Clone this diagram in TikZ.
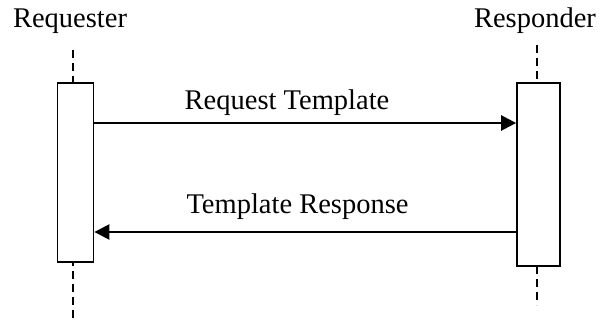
\documentclass[tikz,border=0pt]{standalone}
\usepackage{fontspec}
\setmainfont{Liberation Serif}
\usetikzlibrary{arrows.meta}
\begin{document}
\begin{tikzpicture}[x=1pt,y=-1pt,
  lbl/.style={anchor=base,inner sep=0pt,font=\fontsize{28.5}{30}\selectfont},
  actbox/.style={draw,line width=1.8pt,fill=white,inner sep=0pt},
  life/.style={line width=1.8pt,dash pattern=on 8pt off 5pt},
  msg/.style={line width=2.5pt,-{Triangle[length=15pt,width=15pt]}}]
\useasboundingbox (0,0) rectangle (601,320);
% titles
\node[lbl] (req) at (70,28) {Requester};
\node[lbl] (resp) at (535,28) {Responder};
% lifelines
\coordinate (lt) at (73,50);
\coordinate (lb) at (73,320);
\coordinate (rt) at (537,45);
\coordinate (rb) at (537,305);
\draw[life] (lt) -- (lb);
\draw[life] (rt) -- (rb);
% activation boxes
\node[actbox,minimum width=36pt,minimum height=179pt] (lbox) at (75.5,172.5) {};
\node[actbox,minimum width=43pt,minimum height=183pt] (rbox) at (538.5,174.5) {};
% messages
\coordinate (y1) at (0,123);
\coordinate (y2) at (0,232);
\draw[msg] (lbox.east |- y1) -- (rbox.west |- y1);
\draw[msg] (rbox.west |- y2) -- (lbox.east |- y2);
\node[lbl] (m1) at (287,110) {Request Template};
\node[lbl] (m2) at (297.5,213) {Template Response};
\end{tikzpicture}
\end{document}
